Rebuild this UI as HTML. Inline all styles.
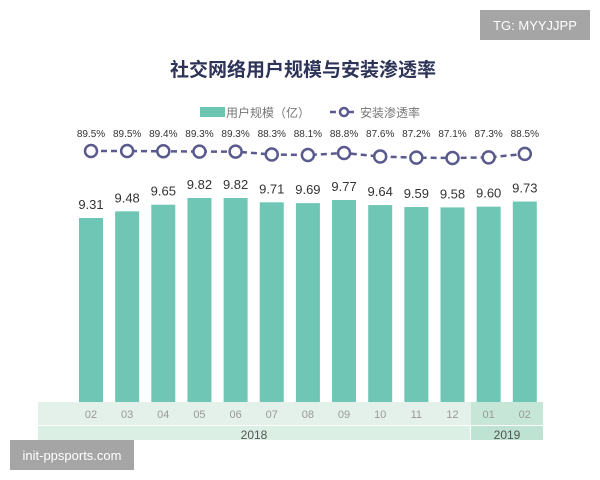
<!DOCTYPE html>
<html><head><meta charset="utf-8"><style>
body{margin:0;background:#fff;width:600px;height:480px;overflow:hidden}
svg{display:block;font-family:"Liberation Sans","Noto Sans CJK SC",sans-serif}
</style></head><body>
<svg id="s" width="600" height="480" xmlns="http://www.w3.org/2000/svg">
<rect width="600" height="480" fill="#fff"/>
<rect x="480" y="10" width="110" height="30" fill="#a5a5a5"/>
<text x="535" y="30" font-size="13" fill="#fff" text-anchor="middle">TG: MYYJJPP</text>
<text x="303" y="76" font-size="19" font-weight="bold" fill="#2e3358" text-anchor="middle" font-family="Noto Sans CJK SC,sans-serif">社交网络用户规模与安装渗透率</text>
<rect x="200" y="107" width="25" height="10" fill="#6cc5b0"/>
<text x="226" y="117" font-size="12" fill="#777" font-family="Noto Sans CJK SC,sans-serif">用户规模（亿）</text>
<line x1="330" y1="112" x2="356" y2="112" stroke="#5a5a8e" stroke-width="2.5" stroke-dasharray="6,3"/>
<circle cx="344" cy="112" r="4" fill="#fff" stroke="#5a5a8e" stroke-width="2.5"/>
<text x="360" y="117" font-size="12" fill="#777" font-family="Noto Sans CJK SC,sans-serif">安装渗透率</text>
<rect x="38" y="402" width="505" height="23" fill="#e3f1ea"/>
<rect x="38" y="426" width="432" height="14" fill="#dcefe4"/>
<rect x="471" y="426" width="72" height="14" fill="#bfe3d2"/>
<rect x="471" y="402" width="72" height="23" fill="#c6e7d7"/>
<text x="254" y="439" font-size="12" fill="#555" text-anchor="middle">2018</text>
<text x="507" y="439" font-size="12" fill="#555" text-anchor="middle">2019</text>
<g id="g"></g>
<rect x="10" y="440" width="124" height="30" fill="#a5a5a5"/>
<text x="72" y="460" font-size="13" fill="#fff" text-anchor="middle">init-ppsports.com</text>
</svg>
<script>
var v=[9.31,9.48,9.65,9.82,9.82,9.71,9.69,9.77,9.64,9.59,9.58,9.60,9.73];
var p=[89.5,89.5,89.4,89.3,89.3,88.3,88.1,88.8,87.6,87.2,87.1,87.3,88.5];
var m=["02","03","04","05","06","07","08","09","10","11","12","01","02"];
var h="",pts=[];
for(var i=0;i<13;i++){var x=91+36.15*i;var t=218-(v[i]-9.31)*39.2;
h+='<rect x="'+(x-12)+'" y="'+t+'" width="24" height="'+(402-t)+'" fill="#6fc6b4"/>';
h+='<text x="'+x+'" y="'+(t-9)+'" font-size="13" fill="#333" text-anchor="middle">'+v[i].toFixed(2)+'</text>';
h+='<text x="'+x+'" y="418" font-size="11" fill="#999" text-anchor="middle">'+m[i]+'</text>';
var cy=151+(89.5-p[i])*2.9;pts.push([x,cy]);
h+='<text x="'+x+'" y="137" font-size="10" fill="#333" text-anchor="middle">'+p[i].toFixed(1)+'%</text>';}
var d="M"+pts.map(function(a){return a[0]+","+a[1]}).join(" L");
h+='<path d="'+d+'" fill="none" stroke="#5a5a8e" stroke-width="2.5" stroke-dasharray="6,4"/>';
pts.forEach(function(a){h+='<circle cx="'+a[0]+'" cy="'+a[1]+'" r="6" fill="#fff" stroke="#5a5a8e" stroke-width="2.5"/>'});
document.getElementById("g").innerHTML=h;
</script>
</body></html>
